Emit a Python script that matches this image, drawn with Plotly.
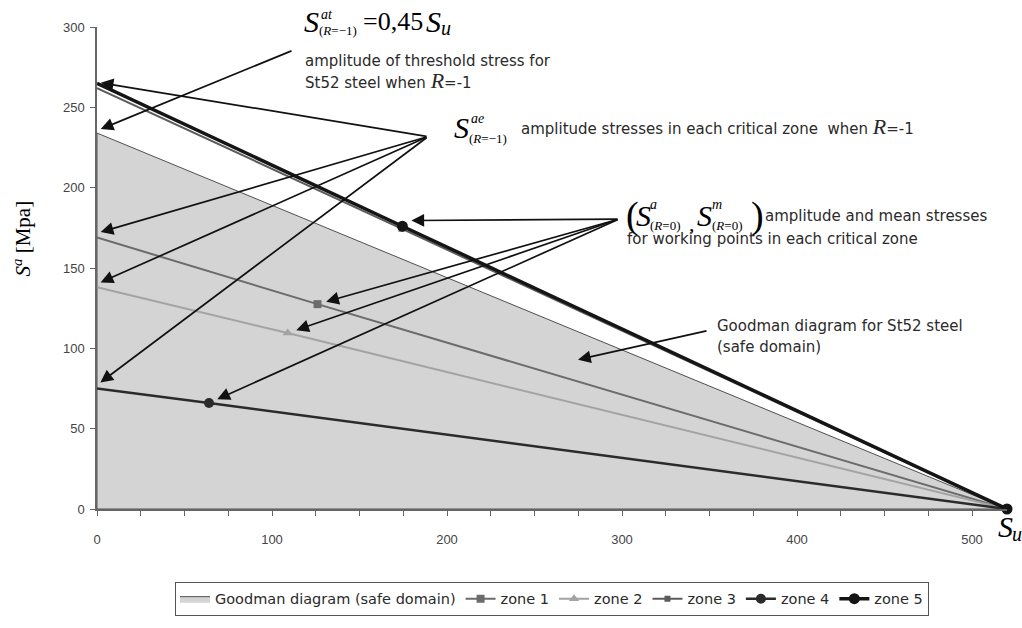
import plotly.graph_objects as go

# ---------------- data ----------------
su = 520                      # ultimate strength S_u [MPa]
goodman_sa0 = 234             # 0.45*S_u, threshold amplitude at R=-1
zone_names = ["zone 1", "zone 2", "zone 3", "zone 4", "zone 5"]
zone_sae = [169, 138, 262, 75, 265]        # S^ae (R=-1) for each zone
zone_sm = [126, 109, 174, 64, 174.5]       # mean stress of working point (R=0)
zone_sa = [127.5, 109.5, 174.5, 66, 176]   # amplitude of working point (R=0)
x_ticks = [0, 100, 200, 300, 400, 500]
y_ticks = [0, 50, 100, 150, 200, 250, 300]

# ---------------- styles ----------------
zone_colors = ["#6b6b6b", "#a3a3a3", "#5c5c5c", "#2b2b2b", "#151515"]
zone_widths = [2, 2, 2, 2.5, 3.5]
zone_symbols = ["square", "triangle-up", "square", "circle", "circle"]
zone_msize = [8, 9, 6, 10, 11]

SANS = "DejaVu Sans"
SERIF = "Liberation Serif"
TXT = "#2a2a2a"

L, R, T, B = 97, 15, 27, 104
W, H = 1022, 628
PW, PH = W - L - R, H - T - B
X0, X1 = 0, 520
Y0, Y1 = 0, 300


def pxp(xp):  # pixel -> paper x
    return (xp - L) / PW


def pyp(yp):  # pixel -> paper y
    return (H - B - yp) / PH


def pxd(xp):  # pixel -> data x
    return X0 + (xp - L) / PW * (X1 - X0)


def pyd(yp):  # pixel -> data y
    return Y0 + (H - B - yp) / PH * (Y1 - Y0)


fig = go.Figure()

# Goodman safe domain
fig.add_trace(go.Scatter(
    x=[0, 0, su, 0], y=[0, goodman_sa0, 0, 0],
    mode="lines", fill="toself", fillcolor="#d4d4d4",
    line=dict(color="#505050", width=1),
    name="Goodman diagram (safe domain)", hoverinfo="skip"))

for i, nm in enumerate(zone_names):
    # first segment (no marker at the axis end)
    fig.add_trace(go.Scatter(
        x=[0, zone_sm[i]], y=[zone_sae[i], zone_sa[i]],
        mode="lines", legendgroup=nm, showlegend=False,
        line=dict(color=zone_colors[i], width=zone_widths[i])))
    # second segment with markers at working point and at S_u
    fig.add_trace(go.Scatter(
        x=[zone_sm[i], su], y=[zone_sa[i], 0],
        mode="lines+markers", name=nm, legendgroup=nm, cliponaxis=False,
        line=dict(color=zone_colors[i], width=zone_widths[i]),
        marker=dict(symbol=zone_symbols[i], color=zone_colors[i],
                    size=zone_msize[i], line=dict(width=0))))

ann = []


def txt(x, y, s, size=15, family=SANS, color=TXT, **kw):
    ann.append(dict(xref="paper", yref="paper", x=pxp(x), y=pyp(y), text=s,
                    showarrow=False, xanchor="left", yanchor="middle",
                    font=dict(family=family, size=size, color=color), **kw))


def arrow(tip_x, tip_y, tail_px, standoff=2):
    ann.append(dict(xref="x", yref="y", x=tip_x, y=tip_y, text="",
                    showarrow=True, axref="x", ayref="y",
                    ax=pxd(tail_px[0]), ay=pyd(tail_px[1]),
                    arrowhead=2, arrowsize=1.5, arrowwidth=1.7,
                    arrowcolor="#111", standoff=standoff))


# --- S^at_(R=-1) = 0,45 S_u
txt(302, 21, "<i>S</i>", 30, SERIF, "#000")
txt(319, 14, "<i>at</i>", 14, SERIF, "#000")
txt(317, 31, "(<i>R</i>=\u22121)", 13, SERIF, "#000")
txt(361, 21, "=0,45", 26, SERIF, "#000")
txt(424, 21, "<i>S</i>", 30, SERIF, "#000")
txt(439, 28, "<i>u</i>", 20, SERIF, "#000")
txt(303, 62, "amplitude of threshold stress for")
txt(303, 82, "St52 steel when <span style='font-family:Liberation Serif;font-size:22px'><i>R</i></span>=-1")
arrow(0, goodman_sa0 + 1.5, (293, 51), standoff=4)

# --- S^ae_(R=-1)
txt(452, 131, "<i>S</i>", 30, SERIF, "#000")
txt(469, 121, "<i>ae</i>", 14, SERIF, "#000")
txt(467, 142, "(<i>R</i>=\u22121)", 13, SERIF, "#000")
txt(519, 130, "amplitude stresses in each critical zone  when <span style='font-family:Liberation Serif;font-size:22px'><i>R</i></span>=-1")
fan1 = (428, 140)
for idx, off in [(4, 0.5), (0, 3), (1, 2.5), (3, 3)]:
    arrow(1, zone_sae[idx] + off, fan1)

# --- (S^a_(R=0), S^m_(R=0))
txt(624, 221, "(", 38, SERIF, "#000")
txt(634, 221, "<i>S</i>", 30, SERIF, "#000")
txt(648, 210, "<i>a</i>", 14, SERIF, "#000")
txt(648, 232, "(<i>R</i>=0)", 13, SERIF, "#000")
txt(687, 230, ",", 22, SERIF, "#000")
txt(695, 221, "<i>S</i>", 30, SERIF, "#000")
txt(710, 210, "<i>m</i>", 14, SERIF, "#000")
txt(710, 232, "(<i>R</i>=0)", 13, SERIF, "#000")
txt(749, 221, ")", 38, SERIF, "#000")
txt(763, 222, "amplitude and mean stresses")
txt(625, 246, "for working points in each critical zone")
fan2 = (619, 225)
arrow(zone_sm[4], zone_sa[4] + 3.5, fan2, standoff=9)
for idx in [0, 1, 3]:
    arrow(zone_sm[idx], zone_sa[idx], fan2, standoff=9)

# --- Goodman annotation
txt(715, 335, "Goodman diagram for St52 steel")
txt(715, 357, "(safe domain)")
ann.append(dict(xref="x", yref="y", x=pxd(578), y=pyd(370), text="",
                showarrow=True, axref="x", ayref="y", ax=pxd(708), ay=pyd(340),
                arrowhead=2, arrowsize=1.5, arrowwidth=1.7, arrowcolor="#111"))

# --- S_u label
txt(996, 542, "<i>S</i>", 30, SERIF, "#000")
txt(1010, 550, "<i>u</i>", 20, SERIF, "#000")

# --- y axis title
ann.append(dict(xref="paper", yref="paper", x=pxp(22), y=pyp(245),
                text="<i>S</i><sup><i>a</i></sup> [Mpa]", showarrow=False,
                textangle=-90, xanchor="center", yanchor="middle",
                font=dict(family=SERIF, size=21, color="#000")))

fig.update_layout(
    width=W, height=H,
    margin=dict(l=L, r=R, t=T, b=B),
    paper_bgcolor="white", plot_bgcolor="white",
    annotations=ann,
    showlegend=True,
    legend=dict(orientation="h", x=0.5, xanchor="center",
                y=-(599 - (H - B)) / PH, yanchor="top",
                bordercolor="#555", borderwidth=1,
                font=dict(family=SANS, size=14.5, color=TXT),
                itemwidth=30, tracegroupgap=0),
    xaxis=dict(range=[X0, X1], tickvals=x_ticks, ticks="outside", ticklen=5,
               tickcolor="#666", showline=True, linecolor="#666", linewidth=2,
               showgrid=False, zeroline=False, ticklabelstandoff=12,
               tickfont=dict(family="Liberation Sans", size=13, color="#444"),
               minor=dict(dtick=25, tick0=0, ticks="outside", ticklen=5,
                          tickcolor="#666", showgrid=False)),
    yaxis=dict(range=[Y0, Y1], tickvals=y_ticks, ticks="outside", ticklen=5,
               tickcolor="#666", showline=True, linecolor="#666", linewidth=1.5,
               showgrid=False, zeroline=False, ticklabelstandoff=3,
               tickfont=dict(family="Liberation Sans", size=13, color="#444")),
)

fig.write_html("out.html")
